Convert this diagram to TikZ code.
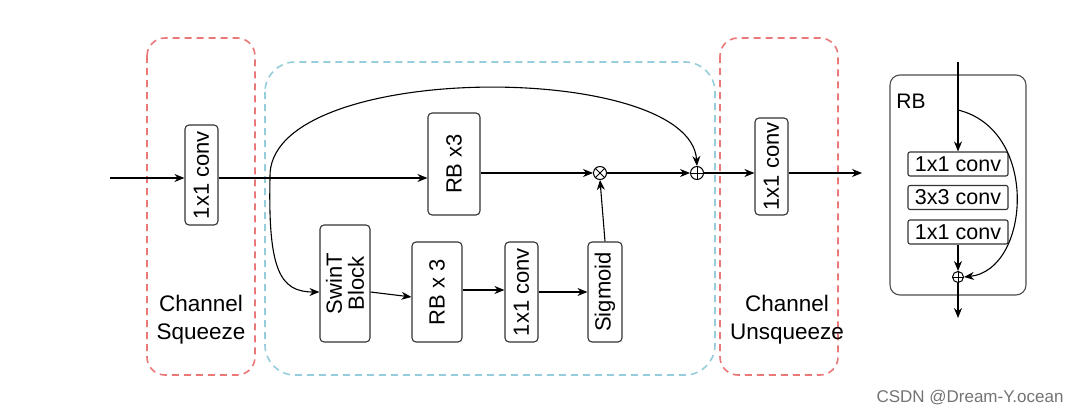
\documentclass[tikz,border=0pt]{standalone}
\usepackage{fontspec}
\setmainfont{Liberation Sans}
\usetikzlibrary{arrows.meta}
\begin{document}
\begin{tikzpicture}[x=1pt,y=-1pt,
  box/.style={draw=black!80,rounded corners=4pt,line width=1.1pt,inner sep=0pt},
  vt/.style={rotate=90,font=\fontsize{22}{22}\selectfont},
  red/.style={draw={rgb,255:red,235;green,120;blue,120},dashed,line width=1.6pt,dash pattern=on 7pt off 5pt,rounded corners=18pt},
  blu/.style={draw={rgb,255:red,150;green,205;blue,220},dashed,line width=1.6pt,dash pattern=on 7pt off 5pt,rounded corners=30pt},
  ar/.style={-{Stealth[length=10pt,width=8pt]},line width=1.1pt},
  ln/.style={line width=1pt},
  op/.style={circle,draw,line width=1pt,minimum size=13pt,inner sep=0pt},
  lab/.style={font=\fontsize{22.5}{28}\selectfont,align=center}]
\useasboundingbox (0,0) rectangle (1084,412);
\draw[red] (147,38) rectangle (255,375);
\draw[blu] (265,62) rectangle (715,375);
\draw[red] (720,38) rectangle (838,375);
\node[lab] (cs) at (201,320) {Channel\\Squeeze};
\node[lab] (cu) at (787,320) {Channel\\Unsqueeze};
% boxes
\node[box,minimum width=33pt,minimum height=100pt] (c1) at (201.5,175) {};
\node[vt] at (c1) {1x1 conv};
\node[box,minimum width=52pt,minimum height=102pt] (rb3) at (454,164) {};
\node[vt] at (rb3) {RB x3};
\node[box,minimum width=50pt,minimum height=117pt] (sw) at (345,283.5) {};
\node[vt,align=center,font=\fontsize{22}{22}\selectfont] at (sw) {SwinT\\Block};
\node[box,minimum width=50pt,minimum height=100pt] (rbb) at (437,292) {};
\node[vt] at (rbb) {RB x 3};
\node[box,minimum width=33pt,minimum height=100pt] (c2) at (521.5,292) {};
\node[vt] at (c2) {1x1 conv};
\node[box,minimum width=34pt,minimum height=100pt] (sg) at (605,292) {};
\node[vt] at (sg) {Sigmoid};
\node[box,minimum width=33pt,minimum height=97pt] (c3) at (771.5,166.5) {};
\node[vt] at (c3) {1x1 conv};
\node[op] (mul) at (600,173) {};
\draw[ln] (mul.north west) -- (mul.south east) (mul.north east) -- (mul.south west);
\node[op] (add) at (697,173) {};
\draw[ln] (add.north) -- (add.south) (add.west) -- (add.east);
\coordinate (in) at (110,178);
\coordinate (br) at (270,178);
\coordinate (out) at (862,173);
\draw[ar] (in) -- (c1.west |- in);
\draw[ar] (c1.east |- in) -- (rb3.west |- in);
\draw[ar] (rb3.east |- mul) -- (mul);
\draw[ar] (mul) -- (add);
\draw[ar] (add) -- (c3.west |- add);
\draw[ar] (c3.east |- out) -- (out);
\draw[ar] (br) .. controls (265,60) and (690,60) .. (add.north);
\draw[ar] (br) .. controls (268,270) and (280,292) .. (sw.west |- 0,292);
\draw[ar] (sw.east |- 0,292) -- (rbb.west |- 0,297);
\draw[ar] (rbb.east |- 0,290) -- (c2.west |- 0,290);
\draw[ar] (c2.east |- 0,292) -- (sg.west |- 0,292);
\draw[ar] (sg.north) -- (mul.south);
% RB detail
\node[box,draw=black!70,rounded corners=10pt,minimum width=136pt,minimum height=220pt] (rbd) at (958,185) {};
\node[font=\fontsize{21}{21}\selectfont] (rbl) at (911,101) {RB};
\node[box,rounded corners=2pt,minimum width=100pt,minimum height=24pt,font=\fontsize{21.5}{21.5}\selectfont] (k1) at (958,164) {1x1 conv};
\node[box,rounded corners=2pt,minimum width=100pt,minimum height=24pt,font=\fontsize{21.5}{21.5}\selectfont] (k2) at (958,197.5) {3x3 conv};
\node[box,rounded corners=2pt,minimum width=100pt,minimum height=24pt,font=\fontsize{21.5}{21.5}\selectfont] (k3) at (958,232) {1x1 conv};
\node[op,minimum size=11pt] (ad2) at (958,277) {};
\draw[ln] (ad2.north) -- (ad2.south) (ad2.west) -- (ad2.east);
\coordinate (rin) at (958,62);
\coordinate (rsk) at (958,110);
\coordinate (rout) at (958,318);
\draw[ar] (rin) -- (k1.north);
\draw[ar] (k3.south) -- (ad2.north);
\draw[ar] (ad2.south) -- (rout);
\draw[ar] (rsk) .. controls (1040,130) and (1030,270) .. (ad2.east);
\node[text=black!55,font=\fontsize{17}{17}\selectfont] (wm) at (970,398) {CSDN @Dream-Y.ocean};
\end{tikzpicture}
\end{document}
